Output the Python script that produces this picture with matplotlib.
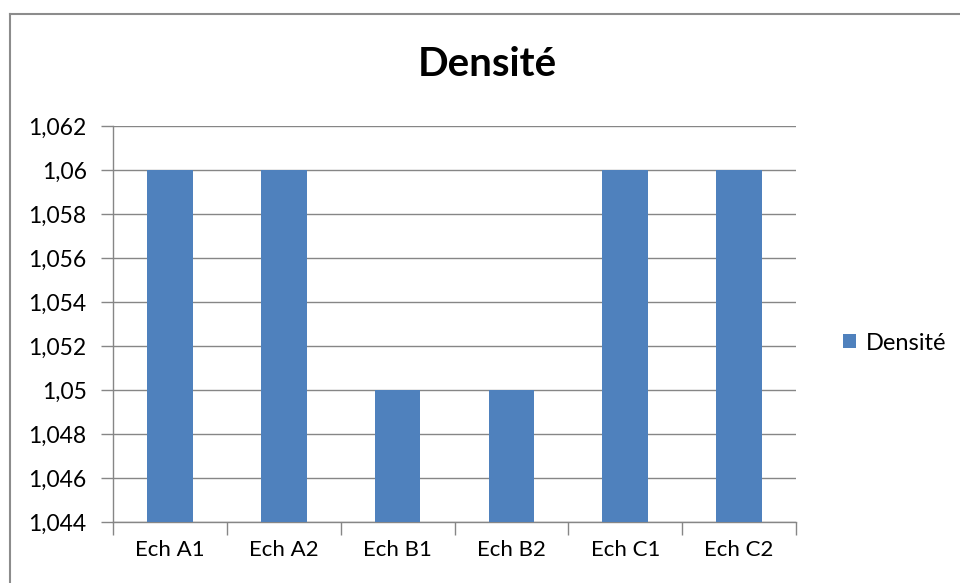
import matplotlib
matplotlib.use("Agg")
import matplotlib.pyplot as plt
from matplotlib.lines import Line2D
from matplotlib.ticker import FuncFormatter, FixedLocator
import numpy as np

categories = ["Ech A1", "Ech A2", "Ech B1", "Ech B2", "Ech C1", "Ech C2"]
densite = [1.060, 1.060, 1.050, 1.050, 1.060, 1.060]
y_ticks = [1.044, 1.046, 1.048, 1.050, 1.052, 1.054, 1.056, 1.058, 1.060, 1.062]

plt.rcParams["font.family"] = ["Lato", "DejaVu Sans"]

W, H = 960, 583
fig = plt.figure(figsize=(W / 100, H / 100), dpi=100)
fig.patch.set_facecolor("white")

# chart-area frame
frame_col = "#8c8c8c"
fig.add_artist(Line2D([9.5 / W, 9.5 / W], [0, 1 - 13.5 / H], color=frame_col, lw=1.5,
                      transform=fig.transFigure))
fig.add_artist(Line2D([9.5 / W, 1], [1 - 13.5 / H, 1 - 13.5 / H], color=frame_col, lw=1.5,
                      transform=fig.transFigure))

ax = fig.add_axes([113 / W, (H - 522) / H, 683 / W, 396 / H])
grid_col = "#868686"
bar_col = "#4f81bd"

x = np.arange(len(categories))
ax.bar(x, densite, width=0.4, color=bar_col, zorder=3, label="Densité")

ax.set_xlim(-0.5, len(categories) - 0.5)
ax.set_ylim(y_ticks[0], y_ticks[-1])
ax.yaxis.set_major_locator(FixedLocator(y_ticks))
ax.yaxis.set_major_formatter(FuncFormatter(
    lambda v, p: f"{v:.3f}".rstrip("0").rstrip(".").replace(".", ",")))
ax.yaxis.grid(True, color=grid_col, lw=1, zorder=0)

ax.set_xticks(x)
ax.set_xticklabels(categories)
ax.set_xticks(np.arange(-0.5, len(categories)), minor=True)
ax.tick_params(axis="x", which="major", length=0, pad=13, labelsize=16, colors="#000000")
ax.tick_params(axis="x", which="minor", length=9, width=1, color=grid_col)
ax.tick_params(axis="y", which="major", length=9, width=1, color=grid_col, pad=10,
               labelsize=16.5, labelcolor="#000000")

for side in ("top", "right"):
    ax.spines[side].set_visible(False)
for side in ("left", "bottom"):
    ax.spines[side].set_color(grid_col)
    ax.spines[side].set_linewidth(1)

fig.text(487 / W, 1 - 65 / H, "Densité", ha="center", va="center",
         fontsize=29, fontweight="bold")

ax.legend(loc="center left", bbox_to_anchor=(834 / W, 1 - 343 / H),
          bbox_transform=fig.transFigure, frameon=False, fontsize=17,
          handlelength=0.55, handleheight=0.55, handletextpad=0.4, borderaxespad=0)

fig.savefig("out.png", dpi=100, facecolor="white")
